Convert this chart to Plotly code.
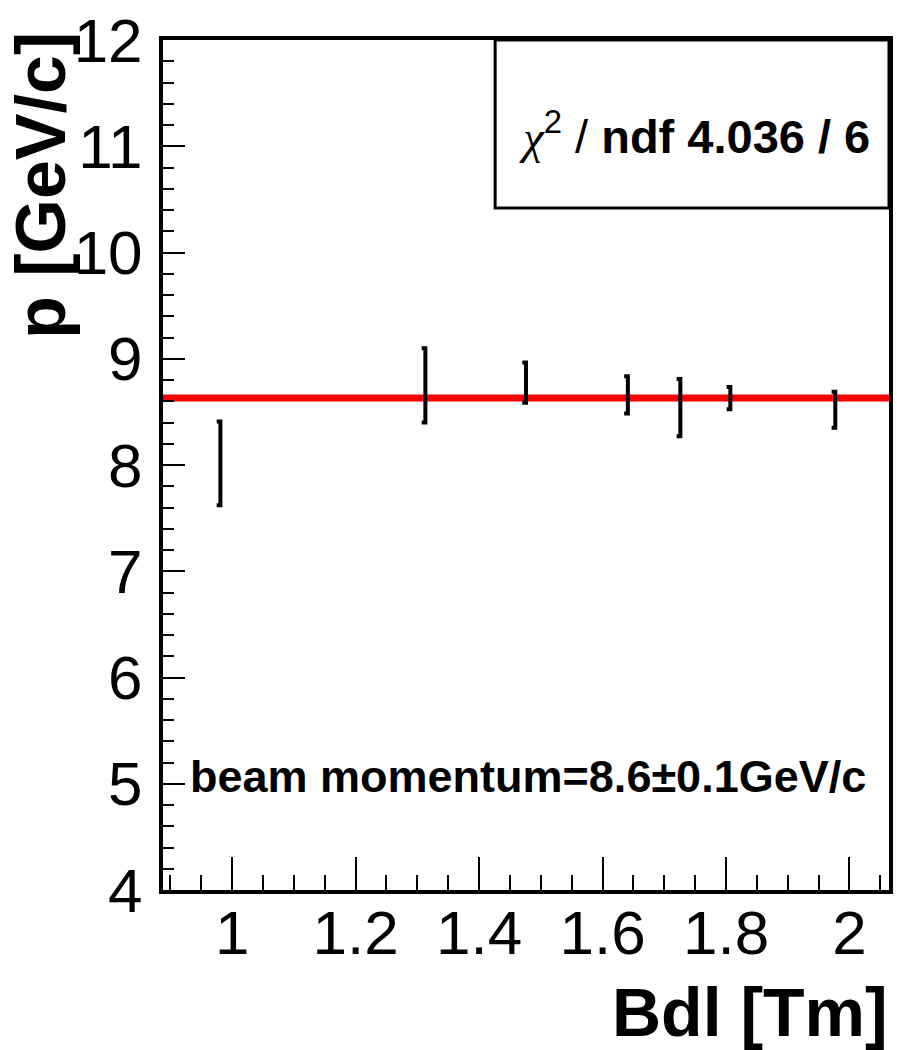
import plotly.graph_objects as go

# ---- data ----
bdl = [0.981, 1.313, 1.476, 1.641, 1.726, 1.807, 1.977]
p_val = [8.015, 8.75, 8.775, 8.66, 8.54, 8.63, 8.52]
p_err = [0.395, 0.35, 0.19, 0.175, 0.27, 0.105, 0.17]
fit_p = 8.63
x_range = [0.888, 2.064]
y_range = [4, 12]
x_ticks = [1.0, 1.2, 1.4, 1.6, 1.8, 2.0]
x_ticktext = ["1", "1.2", "1.4", "1.6", "1.8", "2"]
y_ticks = [4, 5, 6, 7, 8, 9, 10, 11, 12]
y_ticktext = ["4", "5", "6", "7", "8", "9", "10", "11", "12"]
chi_symbol = "χ"
chi2 = "4.036"
ndf = "6"
beam_label = "beam momentum=8.6±0.1GeV/c"
x_title = "Bdl [Tm]"
y_title = "p [GeV/c]"

FONT = "Liberation Sans, Arial, Helvetica, sans-serif"
cap = 0.006  # cap length in x units (drawn to the left, ROOT "[]" style)

fig = go.Figure()

# fit line
fig.add_trace(go.Scatter(
    x=x_range, y=[fit_p, fit_p], mode="lines",
    line=dict(color="#ff0000", width=7), showlegend=False, hoverinfo="skip"))

# error bars drawn as "]" shapes
xs, ys = [], []
for x, y, e in zip(bdl, p_val, p_err):
    xs += [x - cap, x, x, x - cap, None]
    ys += [y + e, y + e, y - e, y - e, None]
fig.add_trace(go.Scatter(
    x=xs, y=ys, mode="lines", line=dict(color="black", width=4),
    showlegend=False, hoverinfo="skip"))

axis_common = dict(
    showgrid=False, zeroline=False, showline=True, linecolor="black",
    linewidth=4, mirror=True, ticks="inside", tickcolor="black",
    tickfont=dict(family=FONT, size=62, color="black"),
)

fig.update_xaxes(
    range=x_range, tickvals=x_ticks, ticktext=x_ticktext,
    ticklen=33, tickwidth=2, ticklabelstandoff=-14,
    minor=dict(dtick=0.05, tick0=0, ticks="inside", ticklen=15,
               tickwidth=2, tickcolor="black"),
    **axis_common)
fig.update_yaxes(
    range=y_range, tickvals=y_ticks, ticktext=y_ticktext,
    ticklen=22, tickwidth=2, ticklabelstandoff=4,
    minor=dict(dtick=0.2, tick0=0, ticks="inside", ticklen=11,
               tickwidth=2, tickcolor="black"),
    **axis_common)

# stats box
fig.add_shape(type="rect", xref="paper", yref="paper",
              x0=0.4575, x1=1.0, y0=0.8024, y1=1.0,
              fillcolor="white", line=dict(color="black", width=3), layer="above")
fig.add_annotation(
    xref="paper", yref="paper", x=0.7315, y=0.8906, xanchor="center", yanchor="middle",
    showarrow=False,
    text=("<span style='font-family:Liberation Serif, Times New Roman, serif;"
          "font-style:italic;font-weight:normal'>" + chi_symbol + "</span>"
          "<sup>2</sup> / <b>ndf " + chi2 + " / " + ndf + "</b>"),
    font=dict(family=FONT, size=47, color="black"))

# beam label
fig.add_annotation(
    xref="paper", yref="paper", x=0.5027, y=0.133, xanchor="center", yanchor="middle",
    showarrow=False, text="<b>" + beam_label + "</b>",
    font=dict(family=FONT, size=45, color="black"))

# axis titles
fig.add_annotation(
    xref="paper", yref="paper", x=1.0, y=-0.143, xanchor="right", yanchor="middle",
    showarrow=False, text="<b>" + x_title + "</b>", borderpad=0,
    font=dict(family=FONT, size=68, color="black"))
fig.add_annotation(
    xref="paper", yref="paper", x=-0.167, y=1.012, xanchor="center", yanchor="top",
    showarrow=False, textangle=-90, text="<b>" + y_title + "</b>",
    font=dict(family=FONT, size=70, color="black"))

fig.update_layout(
    width=897, height=1050,
    margin=dict(l=163, r=4, t=40, b=160),
    paper_bgcolor="white", plot_bgcolor="white",
    showlegend=False,
)

fig.write_html("out.html")
